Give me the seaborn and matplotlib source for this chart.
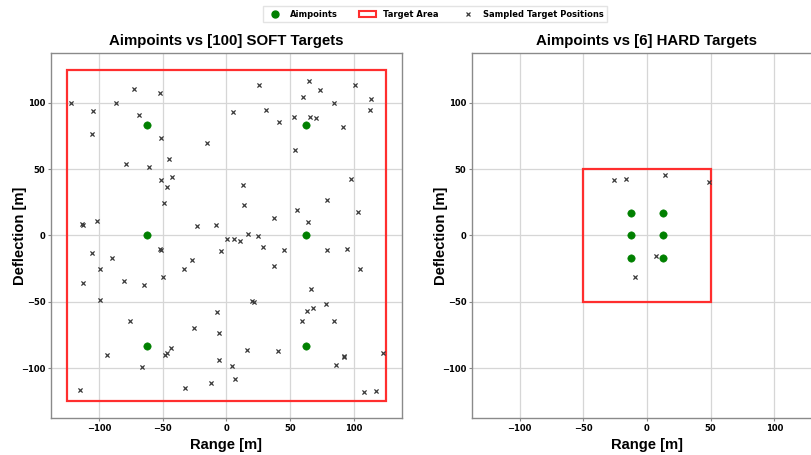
"""Aimpoints versus sampled SOFT and HARD target positions."""

import matplotlib

matplotlib.use("Agg")
import matplotlib.pyplot as plt
import seaborn as sns
from matplotlib.lines import Line2D
from matplotlib.patches import Patch, Rectangle

# SOFT scenario: 6 aimpoints, 100 sampled targets in a 250 m square
SOFT_AIM_X = [-62.5, 62.5, -62.5, 62.5, -62.5, 62.5]
SOFT_AIM_Y = [83.3, 83.3, 0.0, 0.0, -83.3, -83.3]
SOFT_TGT_X = [
    -72.7, -51.8, -121.6, -86.5, -104.9, -68.8, -105.6, -51.5, -15.5, -44.7,
    -79.0, -60.9, -51.0, -42.6, -46.8, -48.9, -113.3, -112.5, -101.4, -23.3,
    -8.6, 0.2,
    25.6, 64.9, 73.2, 100.4, 60.2, 83.9, 113.2, 4.9, 30.8, 112.2,
    40.8, 52.8, 65.3, 69.8, 91.0, 53.3, 97.3, 12.8, 13.6, 78.4,
    102.7, 37.4, 55.1, 64.1, 17.0, 24.9, 6.0, 10.7,
    -52.2, -51.4, -105.6, -89.4, -98.8, -112.4, -80.2, -64.3, -49.6, -33.5,
    -27.2, -4.5, -99.4, -75.8, -7.8, -25.1, -5.7, -93.6, -48.4, -46.5,
    -43.1, -66.4, -5.7, -115.1, -32.7, -12.5,
    28.8, 44.9, 78.4, 94.1, 37.6, 104.9, 65.9, 20.2, 21.2, 63.3,
    67.7, 77.9, 58.8, 84.5, 15.9, 40.5, 91.8, 92.4, 85.7, 122.4,
    4.5, 6.3, 108.0, 117.4,
]
SOFT_TGT_Y = [
    110.7, 107.7, 100.2, 99.9, 93.6, 90.6, 76.1, 73.5, 69.8, 57.3,
    54.0, 51.3, 41.5, 44.0, 36.2, 24.7, 8.3, 7.7, 10.9, 7.4,
    7.7, -2.4,
    113.4, 116.7, 109.6, 113.7, 104.4, 100.2, 102.9, 93.1, 94.4, 94.6,
    85.3, 89.3, 89.6, 88.6, 81.6, 64.3, 42.3, 37.7, 22.7, 26.5,
    17.7, 13.2, 18.9, 10.4, 1.1, -0.4, -2.9, -3.9,
    -9.8, -10.9, -13.2, -16.7, -25.2, -35.5, -34.0, -37.0, -31.0, -25.4,
    -18.6, -11.9, -48.7, -64.5, -57.7, -69.8, -73.1, -89.9, -89.9, -88.3,
    -84.8, -99.4, -94.1, -116.4, -114.7, -110.9,
    -8.4, -10.9, -11.3, -9.9, -22.9, -25.0, -40.0, -49.2, -50.2, -56.8,
    -54.7, -51.7, -64.5, -64.1, -86.3, -86.8, -90.6, -91.2, -97.6, -88.9,
    -98.3, -108.4, -117.9, -116.9,
]
SOFT_HALF = 125

# HARD scenario: 6 aimpoints, 6 sampled targets in a 100 m square
HARD_AIM_X = [-12.5, 12.5, -12.5, 12.5, -12.5, 12.5]
HARD_AIM_Y = [16.7, 16.7, 0.0, 0.0, -16.7, -16.7]
HARD_TGT_X = [-26.2, -16.8, 14.4, 48.8, 6.8, -9.2]
HARD_TGT_Y = [41.9, 42.9, 45.5, 40.4, -15.2, -31.3]
HARD_HALF = 50

LIMIT = 137.5
TICKS = [-100, -50, 0, 50, 100]
LABEL_FONT = ["Liberation Sans", "DejaVu Sans"]
BOX_RED = "#ff2e2e"


def draw_panel(ax, title, half, aim_x, aim_y, tgt_x, tgt_y):
    """Target box, sampled targets and aimpoints on one axes."""
    ax.add_patch(Rectangle((-half, -half), 2 * half, 2 * half, fill=False,
                           edgecolor=BOX_RED, linewidth=1.6, zorder=2))
    sns.scatterplot(x=tgt_x, y=tgt_y, marker="x", s=9, color="#3a3a3a",
                    linewidth=0.9, ax=ax, zorder=3)
    sns.scatterplot(x=aim_x, y=aim_y, marker="o", s=28, color="green",
                    edgecolor="green", ax=ax, zorder=4)
    ax.set_xlim(-LIMIT, LIMIT)
    ax.set_ylim(-LIMIT, LIMIT)
    ax.set_xticks(TICKS)
    ax.set_yticks(TICKS)
    ax.tick_params(labelsize=6, pad=2, length=2, width=0.8, color="#888888",
                   labelcolor="black")
    for lab in ax.get_xticklabels() + ax.get_yticklabels():
        lab.set_fontweight("bold")
    ax.grid(True, color="#d6d6d6", linewidth=0.9)
    ax.set_title(title, family=LABEL_FONT, fontsize=10.8, fontweight="bold",
                 color="black")
    ax.set_xlabel("Range [m]", family=LABEL_FONT, fontsize=10.6,
                  fontweight="bold", labelpad=4, color="black")
    ax.set_ylabel("Deflection [m]", family=LABEL_FONT, fontsize=10.6,
                  fontweight="bold", labelpad=-4, color="black")
    for spine in ax.spines.values():
        spine.set_color("#8a8a8a")
        spine.set_linewidth(1.0)


def main():
    sns.set_style("whitegrid")
    plt.rcParams["font.family"] = ["DejaVu Sans"]
    plt.rcParams["xtick.bottom"] = True
    plt.rcParams["ytick.left"] = True

    fig = plt.figure(figsize=(8.12, 4.55), dpi=100)
    ax_soft = fig.add_axes([51 / 812, 37 / 455, 351 / 812, 365 / 455])
    ax_hard = fig.add_axes([472 / 812, 37 / 455, 350 / 812, 365 / 455])

    draw_panel(ax_soft, "Aimpoints vs [100] SOFT Targets", SOFT_HALF,
               SOFT_AIM_X, SOFT_AIM_Y, SOFT_TGT_X, SOFT_TGT_Y)
    draw_panel(ax_hard, "Aimpoints vs [6] HARD Targets", HARD_HALF,
               HARD_AIM_X, HARD_AIM_Y, HARD_TGT_X, HARD_TGT_Y)

    handles = [
        Line2D([], [], marker="o", linestyle="", color="green", markersize=5),
        Patch(facecolor="white", edgecolor=BOX_RED, linewidth=1.5),
        Line2D([], [], marker="x", linestyle="", color="#3a3a3a",
               markersize=3.2, markeredgewidth=0.9),
    ]
    labels = ["Aimpoints", "Target Area", "Sampled Target Positions"]
    leg = fig.legend(handles, labels, loc="upper center", ncol=3,
                     bbox_to_anchor=(0.536, 0.995), frameon=True,
                     prop={"size": 6, "weight": "bold"}, columnspacing=2.6,
                     handlelength=2.0, fancybox=False)
    leg.get_frame().set_edgecolor("#dddddd")
    for text in leg.get_texts():
        text.set_color("black")

    fig.savefig("out.png", dpi=100)


if __name__ == "__main__":
    main()
